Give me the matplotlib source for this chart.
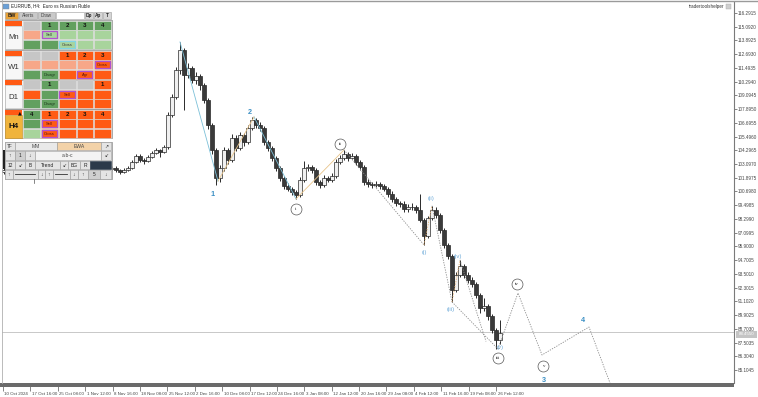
import matplotlib
matplotlib.use("Agg")
import matplotlib.pyplot as plt
import numpy as np
from matplotlib.patches import Rectangle
import matplotlib.transforms as mtransforms

plt.rcParams['font.family'] = ['Liberation Sans', 'DejaVu Sans']

# ---------------- data (EURRUB, H4) ----------------
closes = [102.58, 102.75, 102.49, 102.93, 103.10, 102.84, 103.02, 102.67, 102.40, 102.58,
          102.84, 103.19, 103.02, 102.75, 102.58, 102.32, 102.49, 102.75, 102.93, 102.67,
          102.49, 102.75, 103.02, 102.84, 102.58, 102.40, 102.67, 102.75,
          102.58, 102.40, 102.58, 102.75, 103.28, 103.80, 103.45, 103.37, 103.71, 104.06,
          104.33, 104.15, 104.59,
          107.38, 108.96, 111.31, 113.06, 110.88, 111.49, 110.44, 110.79, 110.00, 108.69,
          106.51, 104.33, 101.88,
          102.75, 104.33, 103.45, 105.37, 104.50, 105.64, 105.02, 106.25, 106.95, 106.51,
          106.25, 105.02, 104.50, 103.63, 102.75, 101.88, 101.18, 100.92, 100.66, 100.39,
          101.71, 102.75, 102.84, 102.58, 101.53, 101.27, 101.88, 101.71, 102.05, 103.28,
          103.63, 103.98, 103.63, 103.80, 103.28, 102.84,
          101.53, 101.36, 101.27, 101.36, 101.18, 100.92, 100.48, 100.05, 99.70, 99.61,
          99.17, 99.35, 99.35, 99.08, 98.21, 96.81,
          98.39, 99.08, 98.65, 97.34, 96.03, 95.07, 92.10, 93.41, 94.19, 93.41,
          92.97, 92.62, 91.66, 90.52, 90.70, 89.82, 88.60, 87.73, 88.34]
highs = [102.80, 102.95, 102.90, 103.15, 103.30, 103.25, 103.20, 103.15, 102.80, 102.75,
         103.00, 103.40, 103.35, 103.10, 102.90, 102.70, 102.65, 102.90, 103.10, 103.05,
         102.80, 102.90, 103.20, 103.15, 102.95, 102.70, 102.80, 102.95,
         102.90, 102.70, 102.75, 102.95, 103.45, 104.00, 103.95, 103.60, 103.90, 104.25,
         104.50, 104.45, 104.80,
         107.60, 109.20, 111.60, 113.76, 113.20, 111.90, 111.70, 111.10, 110.95, 110.20,
         108.90, 106.70, 104.50,
         103.00, 104.60, 104.50, 105.70, 105.60, 105.90, 105.80, 106.50, 107.21, 107.10,
         106.80, 106.40, 105.20, 104.70, 103.80, 102.95, 102.05, 101.40, 101.10, 100.80,
         101.95, 103.40, 103.10, 103.00, 102.75, 101.70, 102.10, 102.05, 102.30, 103.50,
         103.85, 104.33, 104.15, 104.05, 103.95, 103.45,
         103.00, 101.75, 101.55, 101.65, 101.50, 101.35, 101.10, 100.70, 100.25, 99.90,
         99.85, 99.60, 99.65, 99.55, 100.50, 98.40,
         98.60, 99.45, 99.30, 98.85, 97.50, 96.20, 95.25, 93.70, 94.72, 94.40,
         93.70, 93.20, 92.80, 91.85, 91.40, 90.90, 90.00, 88.80, 89.50]
lows = [102.25, 102.45, 102.30, 102.40, 102.80, 102.65, 102.70, 102.50, 102.25, 102.30,
        102.45, 102.75, 102.85, 102.60, 102.40, 102.20, 102.22, 102.40, 102.65, 102.55,
        102.35, 102.40, 102.65, 102.70, 102.45, 102.25, 102.30, 102.55,
        102.40, 102.20, 102.30, 102.45, 102.65, 103.15, 103.30, 103.10, 103.25, 103.60,
        103.95, 103.70, 104.05,
        104.40, 107.20, 108.80, 111.00, 107.82, 110.60, 110.20, 110.10, 109.60, 108.40,
        106.20, 104.00, 101.27,
        101.55, 102.50, 103.10, 103.30, 104.20, 104.30, 104.70, 104.85, 106.05, 106.25,
        105.95, 104.80, 104.20, 103.40, 102.50, 101.60, 100.95, 100.70, 100.40, 100.05,
        100.25, 101.55, 102.50, 102.30, 101.30, 101.00, 101.10, 101.50, 101.55, 101.90,
        103.10, 103.45, 103.40, 103.50, 103.05, 102.60,
        101.30, 101.10, 101.00, 101.05, 100.95, 100.70, 100.25, 99.80, 99.45, 99.35,
        98.95, 98.95, 99.05, 98.85, 98.00, 96.03,
        96.60, 98.20, 98.40, 97.10, 95.80, 94.80, 91.05, 91.90, 93.20, 93.10,
        92.70, 92.35, 91.40, 90.10, 90.30, 89.50, 88.30, 86.94, 87.40]
first_open = 102.40
opens = [first_open] + closes[:-1]

price_ticks = [85.1045, 86.3040, 87.5035, 88.7030, 89.9025, 91.1020, 92.3015, 93.5010,
               94.7005, 95.9000, 97.0995, 98.2990, 99.4985, 100.6980, 101.8975, 103.0970,
               104.2965, 105.4960, 106.6955, 107.8950, 109.0945, 110.2940, 111.4935,
               112.6930, 113.8925, 115.0920, 116.2915]
date_labels = ["10 Oct 2024", "17 Oct 16:00", "25 Oct 08:00", "1 Nov 12:00", "8 Nov 16:00",
               "18 Nov 08:00", "25 Nov 12:00", "2 Dec 16:00", "10 Dec 08:00", "17 Dec 12:00",
               "24 Dec 16:00", "3 Jan 08:00", "12 Jan 12:00", "20 Jan 16:00", "29 Jan 08:00",
               "4 Feb 12:00", "11 Feb 16:00", "19 Feb 08:00", "26 Feb 12:00"]
current_price = 88.43
current_label = "88.4550"

# Elliott wave pivots (bar index, price)
blue_legs = [([44, 53.5], [113.76, 101.6]), ([62.5, 73], [107.21, 100.05])]
tan_legs = [([53.5, 62.5], [101.6, 107.21]), ([73, 85], [100.05, 104.33])]
grey_dotted = [([85, 105], [104.33, 96.03]), ([107, 112], [99.45, 91.05]),
               ([112, 123.5], [91.05, 86.94]), ([114, 120.5], [94.72, 87.6]),
               ([123.5, 128.5, 134.5, 146.25, 151.5], [86.94, 91.83, 86.42, 88.86, 83.97])]
tan_dotted = [([105, 107], [96.03, 99.45]), ([112, 114], [91.05, 94.72])]

big_labels = ["1", "2", "3", "4"]
big_x = [52.25, 61.5, 135, 144.75]
big_y = [100.4, 107.56, 84.23, 89.47]
circ_labels = ["i", "ii", "iii", "iv", "v"]
circ_x = [73, 84, 123.5, 128.25, 134.75]
circ_y = [99.17, 104.85, 86.15, 92.62, 85.45]
sub_labels = ["(i)", "(ii)", "(iii)", "(iv)", "(v)"]
sub_x = [105, 106.75, 111.75, 113.5, 124]
sub_y = [95.33, 100.05, 90.43, 94.98, 87.03]

# ---------------- figure ----------------
W, H = 758, 397
fig = plt.figure(figsize=(W / 100, H / 100), dpi=100)
fig.patch.set_facecolor('white')

def fx(px):
    return px / W

def fy(py):
    return 1 - py / H

ax_left, ax_right, ax_top, ax_bot = 2, 734, 2, 383
ax = fig.add_axes([fx(ax_left), fy(ax_bot), fx(ax_right - ax_left), (ax_bot - ax_top) / H])
ax.set_xlim(-0.5, 182.5)
ax.set_ylim(83.97, 117.25)
ax.set_facecolor('white')

# current price line
ax.axhline(current_price, color='#c8c8c8', lw=0.7, zorder=1)

# candles
x = np.arange(len(closes))
o = np.array(opens); c = np.array(closes); hi = np.array(highs); lo = np.array(lows)
ax.vlines(x, lo, hi, color='#2a2a2a', lw=0.7, zorder=3)
up = c >= o
bw = 0.8
ax.bar(x[up], (c - o)[up], bottom=o[up], width=bw, color='#f0f0f0', edgecolor='#2a2a2a', lw=0.5, zorder=4)
ax.bar(x[~up], (c - o)[~up], bottom=o[~up], width=bw, color='#3a3a3a', edgecolor='#2a2a2a', lw=0.5, zorder=4)

# wave lines
for xs, ys in blue_legs:
    ax.plot(xs, ys, color='#7cc0d8', lw=0.6, zorder=5)
for xs, ys in tan_legs:
    ax.plot(xs, ys, color='#e8c48a', lw=0.6, zorder=5)
for xs, ys in grey_dotted:
    ax.plot(xs, ys, color='#8a8a8a', lw=0.6, ls=(0, (1.5, 1.5)), zorder=5)
for xs, ys in tan_dotted:
    ax.plot(xs, ys, color='#e8b070', lw=0.6, ls=(0, (1.5, 1.5)), zorder=5)

for t, xx, yy in zip(big_labels, big_x, big_y):
    ax.text(xx, yy, t, color='#3a8fc4', fontsize=5.2, fontweight='bold', ha='center', va='center', zorder=6)
ax.scatter(circ_x, circ_y, s=62, facecolor='white', edgecolor='#555555', lw=0.5, zorder=6)
for t, xx, yy in zip(circ_labels, circ_x, circ_y):
    ax.text(xx, yy, t, color='#333333', fontsize=3.2, family='DejaVu Serif', ha='center', va='center', zorder=7)
for t, xx, yy in zip(sub_labels, sub_x, sub_y):
    ax.text(xx, yy, t, color='#6aa8d8', fontsize=4.2, ha='center', va='center', zorder=6)

# axes styling
for s in ['top', 'left', 'bottom']:
    ax.spines[s].set_visible(False)
ax.spines['right'].set_color('#7a7a7a')
ax.spines['right'].set_linewidth(0.8)
ax.yaxis.tick_right()
ax.set_yticks(price_ticks)
ax.set_yticklabels([f"{v:.4f}" for v in price_ticks])
ax.tick_params(axis='y', length=2, width=0.5, colors='#555555', labelsize=3.3, pad=1, labelcolor='#444444')

tick_idx = np.linspace(-0.25, 123.0, len(date_labels))
ax.set_xticks(tick_idx)
ax.set_xticklabels(date_labels, ha='left')
ax.tick_params(axis='x', length=6, width=0.5, colors='#555555', labelsize=3.15, pad=0.5, labelcolor='#444444')
offset = mtransforms.ScaledTranslation(1.5 / 100, 0, fig.dpi_scale_trans)
for lab in ax.get_xticklabels():
    lab.set_transform(lab.get_transform() + offset)

# overlay axes for chrome / panel (pixel coordinates)
pax = fig.add_axes([0, 0, 1, 1], zorder=10)
pax.set_xlim(0, W)
pax.set_ylim(H, 0)
pax.axis('off')
pax.patch.set_alpha(0)

# frame elements
pax.add_patch(Rectangle((0, 383), 734, 4, facecolor='#6a6a6a', edgecolor='none'))
pax.plot([0, W], [0.5, 0.5], color='#9a9a9a', lw=1)
pax.plot([1.5, 1.5], [0, 383], color='#b0b0b0', lw=0.6)
pax.add_patch(Rectangle((736, 331.2), 21, 6.3, facecolor='#c4c4c4', edgecolor='none'))
pax.text(746.5, 334.4, current_label, fontsize=3.2, color='white', ha='center', va='center')
pax.text(724, 6.5, "tradertoolshelper", fontsize=3.3, color='#333333', ha='right', va='center')
pax.add_patch(Rectangle((726, 3.5), 5, 5, facecolor='#cfcfcf', edgecolor='#aaaaaa', lw=0.3))
pax.add_patch(Rectangle((3, 3.5), 6, 5, facecolor='#6aa0d8', edgecolor='#888888', lw=0.3))
pax.text(11, 6, "EURRUB, H4:  Euro vs Russian Ruble", fontsize=3.3, color='#222222', ha='left', va='center')

def cell(x0, y0, x1, y1, fc, text='', tc='#222222', fs=3.4, weight='normal', ec='#9a9a9a', lw=0.4):
    pax.add_patch(Rectangle((x0, y0), x1 - x0, y1 - y0, facecolor=fc, edgecolor=ec, lw=lw))
    if text:
        pax.text((x0 + x1) / 2, (y0 + y1) / 2 + 0.3, text, fontsize=fs, color=tc, ha='center',
                 va='center', fontweight=weight)

# top button row
cell(5, 11.5, 18, 18.5, '#e8a33a', 'BW', fs=3.6, weight='bold')
cell(19, 11.5, 37, 18.5, '#c9c9c9', 'Alerts', tc='#444444')
cell(38, 11.5, 55, 18.5, '#c9c9c9', 'Draw', tc='#444444')
cell(56, 11.5, 84, 18.5, '#ffffff')
cell(85, 11.5, 93, 18.5, '#d6d6d6', 'Dp', weight='bold')
cell(94, 11.5, 102, 18.5, '#d6d6d6', 'Ap', weight='bold')
cell(103, 11.5, 111, 18.5, '#d6d6d6', 'T', weight='bold')

DG, LGR, SAL, OR, LG = '#62a05f', '#a8d49c', '#f7a788', '#ff5a14', '#c6c6c6'
PUR, CYA = '#b050d0', '#80d4e4'
cols = [(23, 40), (41, 57.5), (58.5, 75.5), (76.5, 93), (94, 111)]
blocks = [
    ("Mn", 20.7, [
        [(LG, ''), (DG, '1'), (DG, '2'), (DG, '3'), (DG, '4')],
        [(SAL, ''), (LGR, 'Sell', PUR), (LGR, ''), (LGR, ''), (LGR, '')],
        [(DG, ''), (DG, ''), (LGR, 'Cross', CYA), (LGR, ''), (LGR, '')]]),
    ("W1", 50.7, [
        [(LG, ''), (LG, ''), (OR, '1'), (OR, '2'), (OR, '3')],
        [(SAL, ''), (SAL, ''), (SAL, ''), (SAL, ''), (OR, 'Cross', PUR)],
        [(DG, ''), (DG, 'Disagr'), (OR, ''), (OR, 'Agr', PUR), (OR, '')]]),
    ("D1", 80.2, [
        [(LG, ''), (DG, '1'), (LG, ''), (LG, ''), (OR, '1')],
        [(OR, ''), (DG, ''), (OR, 'Sell', PUR), (OR, ''), (OR, '')],
        [(DG, ''), (DG, 'Disagr'), (OR, ''), (OR, ''), (OR, '')]]),
    ("H4", 109.8, [
        [(DG, '4'), (OR, '1'), (OR, '2'), (OR, '3'), (OR, '4')],
        [(DG, ''), (OR, 'Sell', PUR), (OR, ''), (OR, ''), (OR, '')],
        [(LGR, ''), (OR, 'Cross', PUR), (OR, ''), (OR, ''), (OR, '')]]),
]
for name, top, rows in blocks:
    pax.add_patch(Rectangle((4.5, top - 0.5), 107, 29, facecolor='#f0f0f0', edgecolor='#8a8a8a', lw=0.5))
    cell(5, top, 22, top + 5, OR, ec='none')
    if name == "H4":
        cell(5, top + 5, 22, top + 28, '#f0b43c', ec='#c89020')
        pax.text(13.5, top + 17, name, fontsize=5.8, fontweight='bold', color='#111111', ha='center', va='center')
        pax.text(19.5, top + 2.6, '▲', fontsize=3.5, color='#111111', ha='center', va='center',
                 family='DejaVu Sans')
    else:
        cell(5, top + 5, 22, top + 28, '#f7f7f7', ec='#bdbdbd')
        pax.text(13.5, top + 17, name, fontsize=5.6, color='#333333', ha='center', va='center')
    for r, row in enumerate(rows):
        y0 = top + r * 9.55
        y1 = y0 + 8.9
        for (x0, x1), spec in zip(cols, row):
            fc, txt = spec[0], spec[1]
            if len(spec) > 2:
                cell(x0, y0, x1, y1, fc, ec='#d8d8d8')
                cell(x0 + 0.8, y0 + 0.8, x1 - 0.8, y1 - 0.8, fc, txt, tc='#5a1010' if fc == OR else '#333333',
                     fs=3.0, ec=spec[2], lw=0.9)
            elif txt in ('Disagr',):
                cell(x0, y0, x1, y1, fc, txt, tc='#1d3a1d', fs=3.0, ec='#d8d8d8')
            else:
                cell(x0, y0, x1, y1, fc, txt, fs=4.4, weight='bold', tc='#111111', ec='#d8d8d8')

# control panel
PB = '#e4e4e4'
cell(4.5, 141.5, 111.5, 179, '#f2f2f2', ec='#8a8a8a', lw=0.5)
cell(5, 142, 15, 150, PB, 'TF', tc='#444444')
cell(15, 142, 57, 150, '#e9e9e9', 'MM', tc='#444444', fs=3.6)
cell(57, 142, 100.5, 150, '#f3d2a8', 'EWA', tc='#444444', fs=3.6)
cell(101, 142, 111, 150, PB, '↗', tc='#333333')
cell(5, 151, 15, 159.5, PB, '↑')
cell(15, 151, 25, 159.5, '#cfcfcf', '1')
cell(25, 151, 35, 159.5, PB, '↓')
cell(35, 151, 100.5, 159.5, '#f3f3f3', 'a-b-c', fs=3.6, tc='#444444')
cell(101, 151, 111, 159.5, PB, '↙')
cell(5, 160.5, 15, 169, PB, '12')
cell(15, 160.5, 25, 169, PB, '↙')
cell(25, 160.5, 35, 169, PB, 'B')
cell(35, 160.5, 60, 169, PB, 'Trend', fs=3.6)
cell(60, 160.5, 68, 169, PB, '↙')
cell(68, 160.5, 80, 169, PB, 'BG', fs=3.6)
cell(80, 160.5, 90, 169, PB, 'R', fs=3.6)
cell(90, 160.5, 111, 169, '#2c3a4a', ec='#2c3a4a')
cell(5, 170, 12.5, 178.5, PB, '↑')
cell(12.5, 170, 38, 178.5, PB)
pax.plot([15, 35], [174.3, 174.3], color='#333333', lw=0.6)
cell(38, 170, 45, 178.5, PB, '↓')
cell(45, 170, 52.5, 178.5, PB, '↑')
cell(52.5, 170, 70, 178.5, PB)
pax.plot([55, 67], [174.3, 174.3], color='#333333', lw=0.6)
cell(70, 170, 78, 178.5, PB, '↓')
cell(78, 170, 88, 178.5, PB, '↑')
cell(88, 170, 100, 178.5, '#cfcfcf', '5')
cell(100, 170, 111, 178.5, PB, '↓')
pax.add_patch(Rectangle((3, 150), 2, 19, facecolor='#222222', edgecolor='none'))
pax.plot([34, 34], [178.5, 183], color='#555555', lw=0.5)

fig.savefig('out.png', dpi=100)
